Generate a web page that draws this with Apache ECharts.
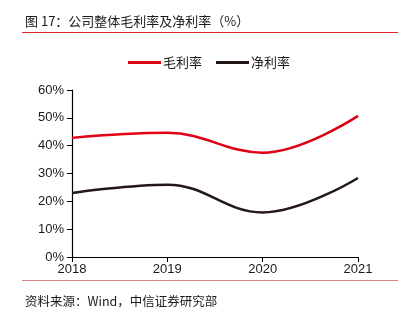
<!DOCTYPE html>
<html><head><meta charset="utf-8">
<script src="https://cdn.jsdelivr.net/npm/echarts@6/dist/echarts.min.js"></script>
<style>html,body{margin:0;padding:0;background:#fff}#c{width:405px;height:326px}</style>
</head><body><div id="c"></div>
<script>
var years = ['2018','2019','2020','2021'];
var grossMargin = [42.8, 44.6, 37.5, 50.7];
var netMargin = [23.0, 26.0, 16.0, 28.4];
var seriesNames = ['毛利率','净利率'];
var titleText = '图 17：公司整体毛利率及净利率（%）';
var sourceText = '资料来源：Wind，中信证券研究部';

var chart = echarts.init(document.getElementById('c'));
var cjk = '"Noto Sans CJK SC", "Liberation Sans", sans-serif';
var num = '"Liberation Sans", Arial, sans-serif';
chart.setOption({
  animation: false,
  backgroundColor: '#fff',
  graphic: [
    {type:'text', left:25, top:15, style:{text:titleText, font:'13px ' + cjk, fill:'#1a1a1a'}},
    {type:'line', shape:{x1:22,y1:32.5,x2:398,y2:32.5}, style:{stroke:'#e0262b', lineWidth:1}},
    {type:'line', shape:{x1:22,y1:280.5,x2:398,y2:280.5}, style:{stroke:'#e08585', lineWidth:1}},
    {type:'text', left:25, top:295, style:{text:sourceText, font:'12.5px ' + cjk, fill:'#1a1a1a'}}
  ],
  legend: {
    top: 51, left: 123,
    itemWidth: 33, itemHeight: 3, itemGap: 14,
    icon: 'rect',
    textStyle: {fontFamily: cjk, fontSize: 13, color: '#1a1a1a', padding:[0,0,0,-3]},
    data: seriesNames
  },
  grid: {left: 72, right: 47, top: 90, bottom: 69},
  xAxis: {
    type: 'category', data: years, boundaryGap: false,
    axisLine: {lineStyle: {color: '#000', width: 1.2}},
    axisTick: {show: true, length: 5, lineStyle: {color: '#000'}},
    axisLabel: {fontFamily: num, fontSize: 13, color: '#1a1a1a', margin: 6}
  },
  yAxis: {
    type: 'value', min: 0, max: 60, interval: 10,
    axisLine: {show: true, lineStyle: {color: '#000', width: 1.2}},
    axisTick: {show: true, length: 5, lineStyle: {color: '#000'}},
    splitLine: {show: false},
    axisLabel: {fontFamily: num, fontSize: 13, color: '#1a1a1a', margin: 8, formatter: '{value}%'}
  },
  series: [
    {name: seriesNames[0], type: 'line', data: grossMargin, smooth: 0.4, symbol: 'none',
     lineStyle: {color: '#e00016', width: 2.5}, itemStyle: {color: '#e00016'}},
    {name: seriesNames[1], type: 'line', data: netMargin, smooth: 0.4, symbol: 'none',
     lineStyle: {color: '#231815', width: 2.5}, itemStyle: {color: '#231815'}}
  ]
});
</script></body></html>
